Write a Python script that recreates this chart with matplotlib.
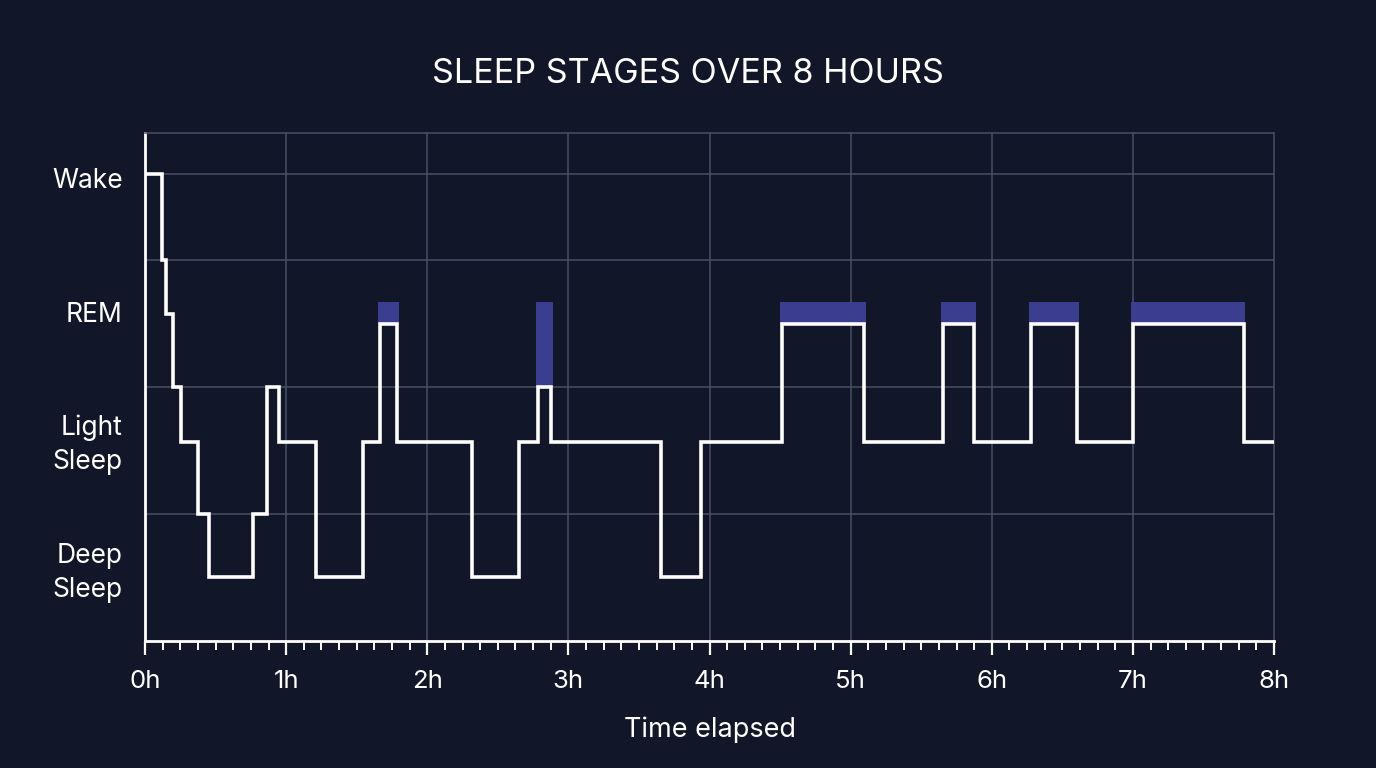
import matplotlib
matplotlib.use("Agg")
import matplotlib.pyplot as plt
from matplotlib.ticker import MultipleLocator, FuncFormatter
import numpy as np

plt.rcParams['font.family'] = ['Inter', 'DejaVu Sans']

# stage levels (plot units)
WAKE, REM, LIGHT, DEEP = 3.68, 2.5, 1.57, 0.5

# hypnogram: time (h) where each step begins and the level it goes to
times = [0.0, 0.123, 0.149, 0.20, 0.255, 0.378, 0.451, 0.763, 0.867, 0.947,
         1.21, 1.547, 1.665, 1.786, 2.317, 2.65, 2.781, 2.877, 3.653, 3.94,
         4.514, 5.095, 5.652, 5.874, 6.278, 6.604, 7.0, 7.784, 8.0]
levels = [WAKE, 3.0, 2.575, 2.0, LIGHT, 1.0, DEEP, 1.0, 2.0, LIGHT,
          DEEP, LIGHT, REM, LIGHT, DEEP, LIGHT, 2.0, LIGHT, DEEP, LIGHT,
          REM, LIGHT, REM, LIGHT, REM, LIGHT, REM, LIGHT, LIGHT]

# REM highlight blocks
rem_start = [1.665, 2.781, 4.514, 5.652, 6.278, 7.0]
rem_end = [1.786, 2.877, 5.095, 5.874, 6.604, 7.784]
rem_top = 2.67

stage_labels = ["Wake", "REM", "Light\nSleep", "Deep\nSleep"]
stage_label_pos = [3.645, 2.59, 1.6, 0.59]
grid_y = [3.68, 3.0, 2.0, 1.0]

bg = "#111628"
grid_col = "#4a5064"

fig = plt.figure(figsize=(13.76, 7.68), dpi=100, facecolor=bg)
ax = fig.add_axes([0.1054, 0.1654, 0.8205, 0.6614])
ax.set_facecolor(bg)

# gridlines
for gy in grid_y:
    ax.axhline(gy, color=grid_col, lw=1.1, zorder=1)
for gx in range(1, 8):
    ax.axvline(gx, color=grid_col, lw=1.1, zorder=1)

# REM blocks, bottom sits on the line level at that time
for s, e in zip(rem_start, rem_end):
    idx = max(i for i, t in enumerate(times) if t <= s + 1e-9)
    base = levels[idx]
    ax.bar(s - 0.012, rem_top - base, width=(e - s) + 0.024, bottom=base,
           align='edge', color="#3b3d8e", zorder=2, linewidth=0)

ax.step(times, levels, where='post', color='white', lw=2.6, zorder=3,
        solid_joinstyle='miter')

ax.set_xlim(0, 8)
ax.set_ylim(0, 4)

ax.xaxis.set_major_locator(MultipleLocator(1))
ax.xaxis.set_minor_locator(MultipleLocator(0.125))
ax.xaxis.set_major_formatter(FuncFormatter(lambda v, p: f"{int(v)}h"))
ax.tick_params(axis='x', which='major', length=10, width=1.6, color='white',
               labelcolor='white', labelsize=18.5, pad=11)
ax.tick_params(axis='x', which='minor', length=6.5, width=1.4, color='white')

ax.set_yticks(stage_label_pos)
ax.set_yticklabels(stage_labels)
ax.tick_params(axis='y', length=0, labelcolor='white', labelsize=19, pad=16)
for lab in ax.get_yticklabels():
    lab.set_linespacing(1.4)

ax.spines['left'].set_color('white')
ax.spines['left'].set_linewidth(2)
ax.spines['bottom'].set_color('white')
ax.spines['bottom'].set_linewidth(2)
ax.spines['top'].set_color(grid_col)
ax.spines['right'].set_color(grid_col)
ax.spines['top'].set_linewidth(1.1)
ax.spines['right'].set_linewidth(1.1)

ax.set_xlabel("Time elapsed", color='white', fontsize=19.5, labelpad=17)
fig.suptitle("SLEEP STAGES OVER 8 HOURS", color='white', fontsize=24.6,
             y=0.903, va='center')

plt.savefig("out.png", dpi=100, facecolor=bg)
